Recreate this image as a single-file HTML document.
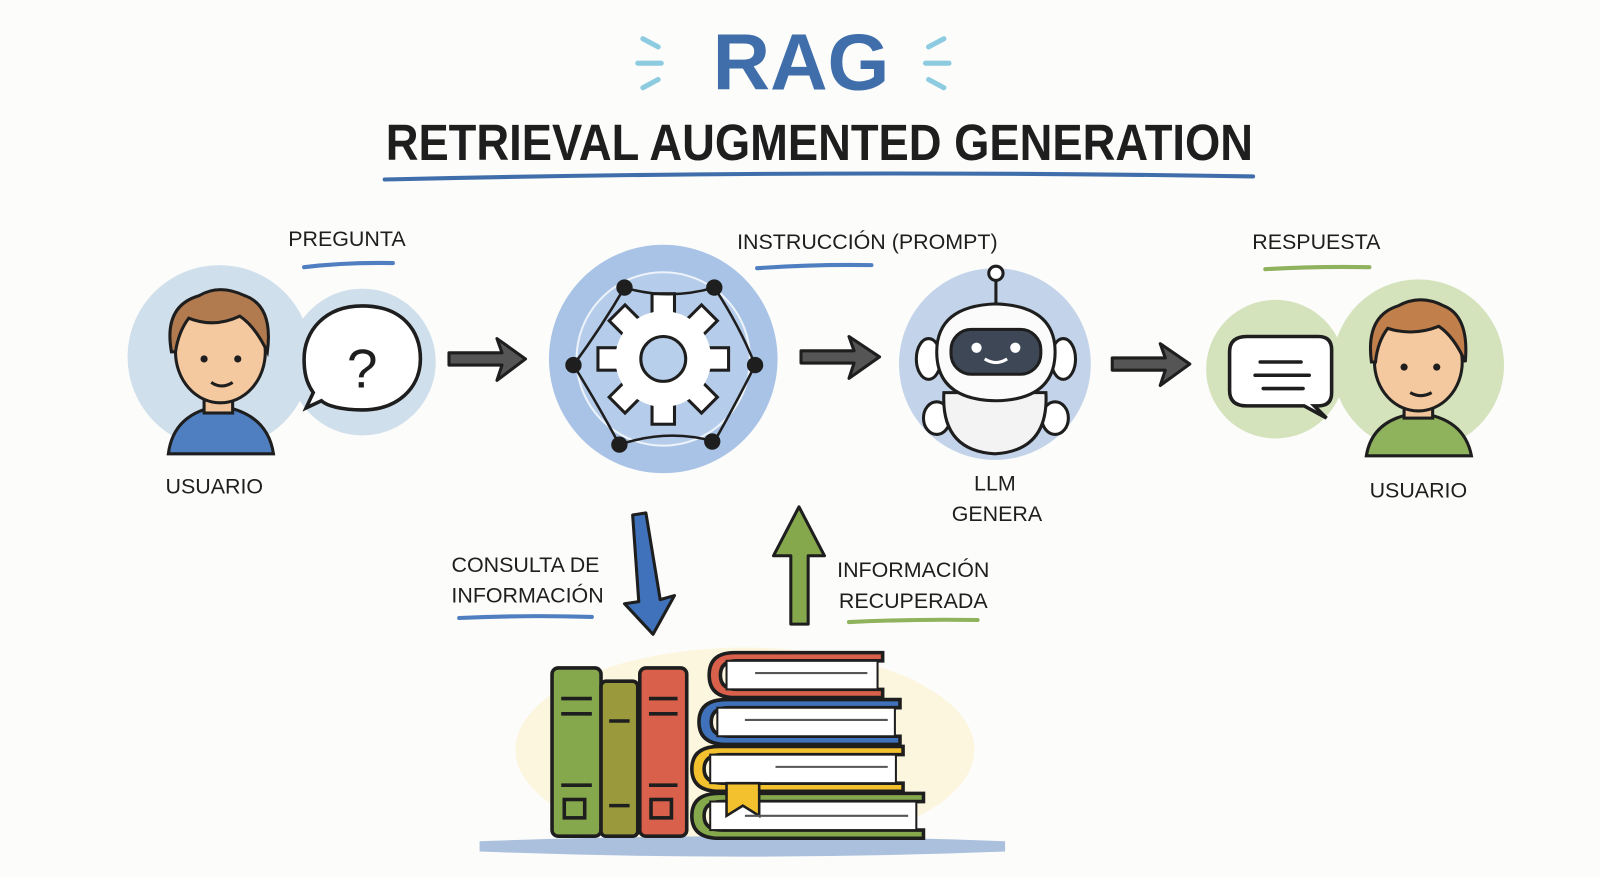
<!DOCTYPE html>
<html><head><meta charset="utf-8"><style>
html,body{margin:0;padding:0;background:#fcfcfb;}
svg{display:block}
text{font-family:"Liberation Sans",sans-serif;fill:#1e1e1e}
</style></head><body>
<svg width="1600" height="877" viewBox="0 0 1568 860" preserveAspectRatio="none" xmlns="http://www.w3.org/2000/svg">
<rect width="1568" height="860" fill="#fcfcfb"/>
<!-- title -->
<text x="785" y="88" font-size="78" font-weight="bold" fill="#3f6eaa" style="fill:#3f6eaa" text-anchor="middle">RAG</text>
<g stroke="#8ccbe0" stroke-width="5" stroke-linecap="round">
<line x1="630" y1="38" x2="645" y2="46"/><line x1="625" y1="62" x2="648" y2="62"/><line x1="630" y1="86" x2="645" y2="78"/>
<line x1="925" y1="38" x2="910" y2="46"/><line x1="930" y1="62" x2="907" y2="62"/><line x1="925" y1="86" x2="910" y2="78"/>
</g>
<text x="803" y="157" font-size="50" font-weight="bold" text-anchor="middle" textLength="850" lengthAdjust="spacingAndGlyphs">RETRIEVAL AUGMENTED GENERATION</text>
<path d="M377 176 Q800 166 1228 173" stroke="#3f6eaa" stroke-width="4" fill="none" stroke-linecap="round"/>

<!-- left user blob -->
<circle cx="215" cy="350" r="90" fill="#cfdfeb"/>
<circle cx="355" cy="355" r="72" fill="#cfdfeb"/>
<path d="M165 445 Q170 405 215 398 Q262 405 268 445 Z" fill="#4f7fc0" stroke="#1e1e1e" stroke-width="3"/>
<rect x="200" y="380" width="28" height="25" fill="#f2c49c" stroke="#1e1e1e" stroke-width="3"/>
<ellipse cx="216" cy="345" rx="44" ry="50" fill="#f5c9a0" stroke="#1e1e1e" stroke-width="3"/>
<path d="M168 345 Q160 300 195 290 Q215 278 240 290 Q268 300 262 345 Q250 320 235 310 Q210 322 185 312 Q175 325 172 345Z" fill="#b27a4f" stroke="#1e1e1e" stroke-width="3"/>
<circle cx="200" cy="352" r="3.5" fill="#1e1e1e"/><circle cx="233" cy="352" r="3.5" fill="#1e1e1e"/>
<path d="M207 375 Q217 382 228 375" stroke="#1e1e1e" stroke-width="3" fill="none"/>
<path d="M355 300 C 395 300 412 325 412 352 C 412 380 390 402 355 402 C 335 402 320 398 315 393 L300 400 L307 385 C 300 375 298 365 298 352 C 298 325 318 300 355 300Z" fill="#fff" stroke="#1e1e1e" stroke-width="3.5"/>
<text x="355" y="380" font-size="54" text-anchor="middle">?</text>
<text x="340" y="241" font-size="21" text-anchor="middle">PREGUNTA</text>
<path d="M298 262 Q340 257 385 258" stroke="#4f7fc0" stroke-width="4" fill="none" stroke-linecap="round"/>
<text x="210" y="484" font-size="21" text-anchor="middle">USUARIO</text>

<!-- arrows -->
<g fill="#555" stroke="#1e1e1e" stroke-width="3" stroke-linejoin="round">
<path d="M440 346 L492 346 L487 332 L515 352 L487 373 L492 358 L440 358Z"/>
<path d="M785 344 L837 344 L832 330 L862 350 L832 371 L837 356 L785 356Z"/>
<path d="M1090 351 L1142 351 L1137 337 L1166 357 L1137 378 L1142 363 L1090 363Z"/>
</g>

<!-- center gear circle -->
<circle cx="650" cy="352" r="112" fill="#a9c3e6"/>
<circle cx="650" cy="352" r="85" fill="#b8cfec" stroke="#fff" stroke-width="2" opacity=".8"/>
<g transform="translate(650,352)">
<g fill="#fff" stroke="#1e1e1e" stroke-width="3">
<rect x="-11" y="-64" width="22" height="30" transform="rotate(0)"/>
<rect x="-11" y="-64" width="22" height="30" transform="rotate(45)"/>
<rect x="-11" y="-64" width="22" height="30" transform="rotate(90)"/>
<rect x="-11" y="-64" width="22" height="30" transform="rotate(135)"/>
<rect x="-11" y="-64" width="22" height="30" transform="rotate(180)"/>
<rect x="-11" y="-64" width="22" height="30" transform="rotate(225)"/>
<rect x="-11" y="-64" width="22" height="30" transform="rotate(270)"/>
<rect x="-11" y="-64" width="22" height="30" transform="rotate(315)"/>
</g>
<circle r="47" fill="#fff"/>
<circle r="22" fill="#b8cfec" stroke="#1e1e1e" stroke-width="3"/>
</g>
<g stroke="#1e1e1e" stroke-width="2.5" fill="none">
<path d="M612 282 Q655 295 700 282 Q725 320 740 358 Q720 398 700 433 Q655 420 607 436 Q585 395 562 358 Q590 320 612 282Z"/>
</g>
<g fill="#1e1e1e">
<circle cx="612" cy="282" r="8"/><circle cx="700" cy="282" r="8"/><circle cx="562" cy="358" r="8"/><circle cx="740" cy="358" r="8"/><circle cx="607" cy="436" r="8"/><circle cx="698" cy="433" r="8"/>
</g>
<text x="850" y="244" font-size="21" text-anchor="middle">INSTRUCCIÓN (PROMPT)</text>
<path d="M742 263 Q800 259 854 260" stroke="#4f7fc0" stroke-width="4" fill="none" stroke-linecap="round"/>

<!-- robot -->
<circle cx="975" cy="357" r="94" fill="#c3d4ea"/>
<line x1="976" y1="272" x2="976" y2="300" stroke="#1e1e1e" stroke-width="3"/>
<circle cx="976" cy="268" r="7" fill="#fff" stroke="#1e1e1e" stroke-width="3"/>
<ellipse cx="918" cy="410" rx="13" ry="16" fill="#fff" stroke="#1e1e1e" stroke-width="3"/>
<ellipse cx="1034" cy="410" rx="13" ry="16" fill="#fff" stroke="#1e1e1e" stroke-width="3"/>
<path d="M925 385 Q922 442 975 445 Q1028 442 1025 385Z" fill="#f3f3f3" stroke="#1e1e1e" stroke-width="3"/>
<ellipse cx="910" cy="352" rx="12" ry="20" fill="#fff" stroke="#1e1e1e" stroke-width="3"/>
<ellipse cx="1042" cy="352" rx="12" ry="20" fill="#fff" stroke="#1e1e1e" stroke-width="3"/>
<path d="M918 345 Q918 300 976 298 Q1034 300 1034 345 Q1034 392 976 393 Q918 392 918 345Z" fill="#fbfbfb" stroke="#1e1e1e" stroke-width="3"/>
<rect x="932" y="323" width="88" height="44" rx="20" fill="#3d4756" stroke="#1e1e1e" stroke-width="3"/>
<circle cx="957" cy="341" r="5" fill="#fff"/><circle cx="995" cy="341" r="5" fill="#fff"/>
<path d="M965 352 Q976 359 987 352" stroke="#fff" stroke-width="3" fill="none"/>
<text x="975" y="481" font-size="21" text-anchor="middle">LLM</text>
<text x="977" y="511" font-size="21" text-anchor="middle">GENERA</text>

<!-- right green -->
<circle cx="1250" cy="362" r="68" fill="#d5e3bd"/>
<circle cx="1390" cy="358" r="84" fill="#d5e3bd"/>
<path d="M1339 447 Q1345 410 1390 405 Q1435 410 1442 447 Z" fill="#8fb25c" stroke="#1e1e1e" stroke-width="3"/>
<rect x="1376" y="385" width="28" height="25" fill="#f2c49c" stroke="#1e1e1e" stroke-width="3"/>
<ellipse cx="1390" cy="355" rx="43" ry="48" fill="#f5c9a0" stroke="#1e1e1e" stroke-width="3"/>
<path d="M1344 355 Q1338 310 1370 300 Q1392 288 1415 300 Q1440 310 1436 355 Q1425 330 1410 320 Q1385 330 1360 322 Q1350 335 1348 355Z" fill="#c07f4b" stroke="#1e1e1e" stroke-width="3"/>
<circle cx="1376" cy="360" r="3.5" fill="#1e1e1e"/><circle cx="1408" cy="360" r="3.5" fill="#1e1e1e"/>
<path d="M1382 385 Q1392 391 1403 385" stroke="#1e1e1e" stroke-width="3" fill="none"/>
<path d="M1222 330 L1292 330 Q1305 330 1305 343 L1305 385 Q1305 398 1292 398 L1288 398 L1300 410 L1278 398 L1222 398 Q1205 398 1205 383 L1205 345 Q1205 330 1222 330Z" fill="#fff" stroke="#1e1e1e" stroke-width="3.5"/>
<g stroke="#1e1e1e" stroke-width="3.5" stroke-linecap="round"><line x1="1235" y1="355" x2="1275" y2="355"/><line x1="1230" y1="368" x2="1283" y2="368"/><line x1="1238" y1="381" x2="1277" y2="381"/></g>
<text x="1290" y="244" font-size="21" text-anchor="middle">RESPUESTA</text>
<path d="M1240 264 Q1290 261 1342 262" stroke="#8fb25c" stroke-width="4" fill="none" stroke-linecap="round"/>
<text x="1390" y="488" font-size="21" text-anchor="middle">USUARIO</text>

<!-- vertical arrows -->
<path d="M620 505 L633 503 L647 588 L661 584 L640 622 L612 592 L626 590Z" fill="#3f72ba" stroke="#1e1e1e" stroke-width="3" stroke-linejoin="round"/>
<path d="M775 612 L775 545 L758 545 L783 497 L808 545 L792 545 L792 612Z" fill="#86a84d" stroke="#1e1e1e" stroke-width="3" stroke-linejoin="round"/>
<text x="515" y="561" font-size="21" text-anchor="middle">CONSULTA DE</text>
<text x="517" y="591" font-size="21" text-anchor="middle">INFORMACIÓN</text>
<path d="M450 606 Q515 603 580 605" stroke="#4f7fc0" stroke-width="4" fill="none" stroke-linecap="round"/>
<text x="895" y="566" font-size="21" text-anchor="middle">INFORMACIÓN</text>
<text x="895" y="596" font-size="21" text-anchor="middle">RECUPERADA</text>
<path d="M832 610 Q895 607 958 608" stroke="#8fb25c" stroke-width="4" fill="none" stroke-linecap="round"/>

<!-- books -->
<ellipse cx="730" cy="735" rx="225" ry="100" fill="#fbf0c4" opacity=".5"/>
<path d="M470 825 Q730 815 985 825 L985 835 Q730 845 470 835Z" fill="#aac0dc"/>
<g stroke="#1e1e1e" stroke-width="3.5">
<rect x="541" y="655" width="48" height="165" rx="6" fill="#86a84d"/>
<rect x="589" y="668" width="36" height="152" rx="5" fill="#9a9a3d"/>
<rect x="627" y="655" width="46" height="165" rx="6" fill="#d9604a"/>
<rect x="553" y="784" width="20" height="18" fill="none"/>
<rect x="638" y="784" width="20" height="18" fill="none"/>
<line x1="550" y1="685" x2="580" y2="685"/><line x1="550" y1="700" x2="580" y2="700"/><line x1="550" y1="770" x2="580" y2="770"/>
<line x1="597" y1="707" x2="617" y2="707"/><line x1="597" y1="790" x2="617" y2="790"/>
<line x1="636" y1="685" x2="664" y2="685"/><line x1="636" y1="700" x2="664" y2="700"/><line x1="636" y1="770" x2="664" y2="770"/>
<path d="M865 640 L720 640 Q695 640 695 662 Q695 684 720 684 L865 684 L865 676 L722 676 Q706 676 706 662 Q706 648 722 648 L865 648Z" fill="#d9604a"/>
<rect x="712" y="648" width="148" height="28" fill="#fff" stroke-width="2"/>
<path d="M882 686 L712 686 Q685 686 685 708 Q685 730 712 730 L882 730 L882 722 L714 722 Q697 722 697 708 Q697 694 714 694 L882 694Z" fill="#3f72ba"/>
<rect x="703" y="694" width="174" height="28" fill="#fff" stroke-width="2"/>
<path d="M885 732 L705 732 Q678 732 678 754 Q678 776 705 776 L885 776 L885 768 L708 768 Q690 768 690 754 Q690 740 708 740 L885 740Z" fill="#f3c12e"/>
<rect x="696" y="740" width="182" height="28" fill="#fff" stroke-width="2"/>
<path d="M905 778 L705 778 Q678 778 678 800 Q678 822 705 822 L905 822 L905 814 L708 814 Q690 814 690 800 Q690 786 708 786 L905 786Z" fill="#86a84d"/>
<rect x="696" y="786" width="202" height="28" fill="#fff" stroke-width="2"/>
<path d="M712 768 L744 768 L744 800 L728 790 L712 800Z" fill="#f3c12e" stroke-width="2.5"/>
</g>
<g stroke="#555" stroke-width="2"><line x1="740" y1="660" x2="850" y2="660"/><line x1="730" y1="706" x2="870" y2="706"/><line x1="760" y1="752" x2="870" y2="752"/><line x1="730" y1="800" x2="890" y2="800"/></g>
</svg>
</body></html>
